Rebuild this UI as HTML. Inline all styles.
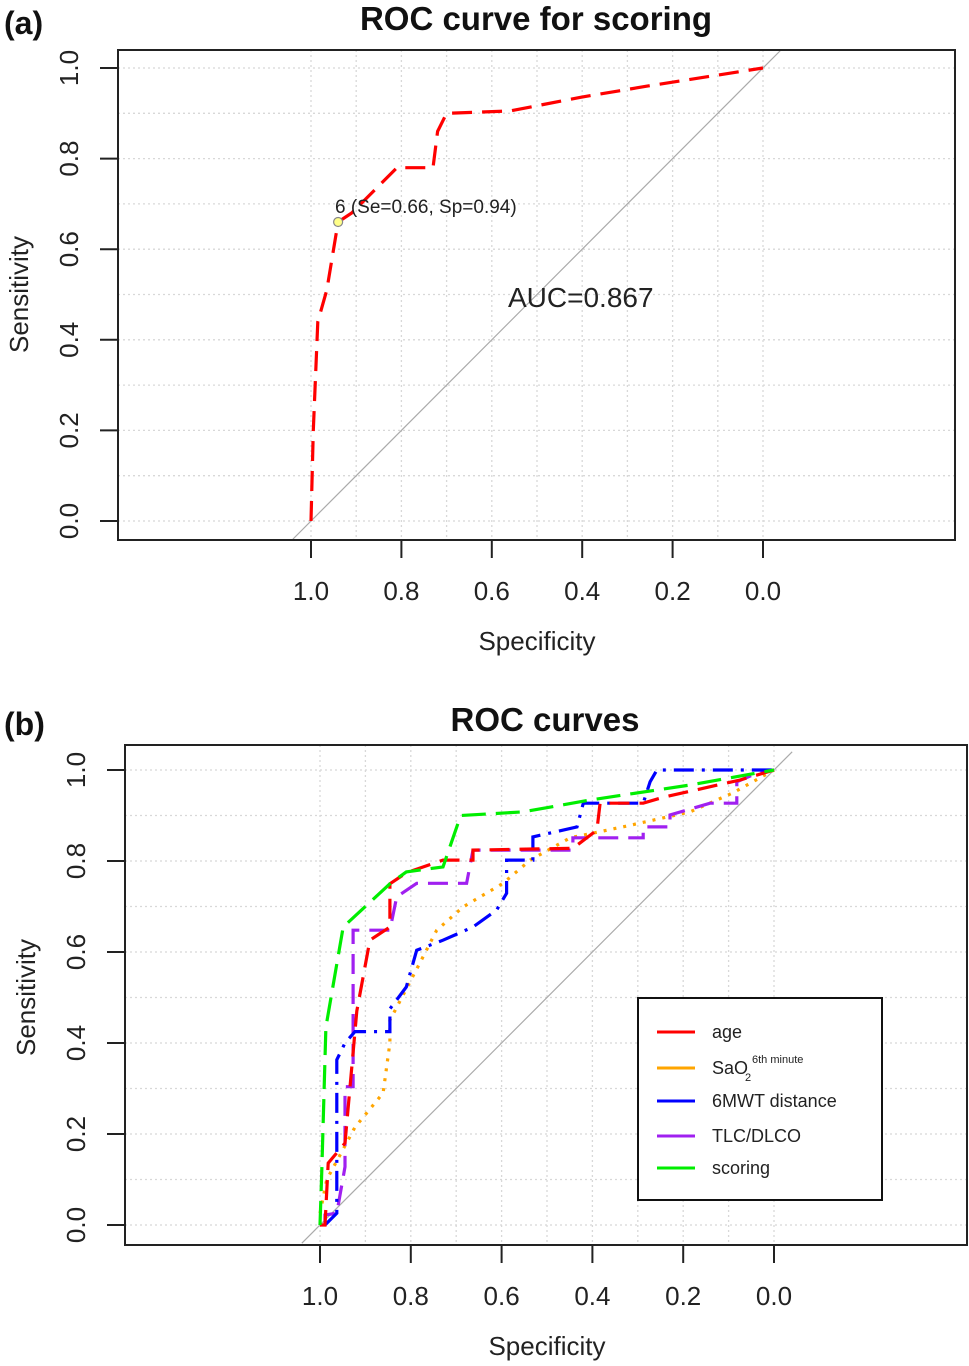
<!DOCTYPE html>
<html><head><meta charset="utf-8"><style>
body{margin:0;background:#fff}
svg{display:block;font-family:"Liberation Sans",sans-serif}
</style></head><body>
<svg id="s" width="969" height="1366" viewBox="0 0 969 1366" xmlns="http://www.w3.org/2000/svg"></svg>
<script>
const ticksX=[1.0,0.8,0.6,0.4,0.2,0.0];
const ticksY=[0.0,0.2,0.4,0.6,0.8,1.0];
const tickLabels=["1.0","0.8","0.6","0.4","0.2","0.0"];
const tickLabelsY=["0.0","0.2","0.4","0.6","0.8","1.0"];
const scoringASpec=[1.0,0.995,0.985,0.965,0.94,0.91,0.81,0.73,0.72,0.70,0.56,0.405,0.256,0.0];
const scoringASens=[0.0,0.2,0.44,0.51,0.66,0.68,0.78,0.78,0.86,0.90,0.905,0.935,0.96,1.0];
const ageSpec=[1.0,0.989,0.982,0.945,0.919,0.89,0.846,0.846,0.81,0.729,0.663,0.663,0.443,0.39,0.383,0.288,0.244,0.075,0.0];
const ageSens=[0.0,0.0,0.136,0.18,0.47,0.626,0.655,0.75,0.774,0.802,0.802,0.824,0.828,0.868,0.927,0.927,0.94,0.978,1.0];
const saoSpec=[1.0,0.985,0.923,0.861,0.846,0.846,0.78,0.743,0.685,0.597,0.537,0.449,0.333,0.185,0.09,0.0];
const saoSens=[0.026,0.1,0.215,0.29,0.4,0.45,0.576,0.648,0.699,0.751,0.802,0.851,0.875,0.908,0.95,1.0];
const mwtSpec=[0.989,0.963,0.963,0.945,0.923,0.846,0.846,0.81,0.787,0.729,0.663,0.611,0.589,0.589,0.531,0.531,0.434,0.42,0.288,0.273,0.258,0.0];
const mwtSens=[0.0,0.026,0.363,0.4,0.425,0.425,0.475,0.523,0.604,0.626,0.655,0.692,0.729,0.802,0.802,0.853,0.875,0.927,0.927,0.974,1.0,1.0];
const tlcSpec=[0.989,0.989,0.963,0.945,0.945,0.927,0.927,0.846,0.831,0.787,0.677,0.663,0.443,0.443,0.288,0.288,0.229,0.229,0.141,0.082,0.082,0.038,0.0];
const tlcSens=[0.0,0.022,0.026,0.128,0.304,0.304,0.648,0.648,0.721,0.751,0.751,0.824,0.824,0.851,0.851,0.875,0.875,0.901,0.927,0.927,0.974,0.993,1.0];
const scoringBSpec=[1.0,0.996,0.987,0.949,0.846,0.81,0.729,0.69,0.553,0.405,0.185,0.0];
const scoringBSens=[0.0,0.12,0.435,0.655,0.75,0.776,0.787,0.90,0.908,0.934,0.967,1.0];
const legendLabels=["age","SaO","6MWT distance","TLC/DLCO","scoring"];

const S=document.getElementById('s');const NS="http://www.w3.org/2000/svg";
function el(t,a,txt){const e=document.createElementNS(NS,t);for(const k in a)e.setAttribute(k,a[k]);if(txt!=null)e.textContent=txt;S.appendChild(e);return e;}

function panel(P){
  const X=v=>P.x0+(1-v)*(P.x1-P.x0);
  const Y=v=>P.y0-v*(P.y0-P.y1);
  for(let i=0;i<=10;i++){
    const g=el('line',{x1:X(i/10),x2:X(i/10),y1:P.by,y2:P.by+P.bh,stroke:'#d8d8d8','stroke-width':1.3,'stroke-dasharray':'2 3'});
    
    const h=el('line',{x1:P.bx,x2:P.bx+P.bw,y1:Y(i/10),y2:Y(i/10),stroke:'#d8d8d8','stroke-width':1.3,'stroke-dasharray':'2 3'});
    
  }
  const d=el('line',{x1:X(1.04),y1:Y(-0.04),x2:X(-0.04),y2:Y(1.04),stroke:'#aaa','stroke-width':1.2});
  
  const b=el('rect',{x:P.bx,y:P.by,width:P.bw,height:P.bh,fill:'none',stroke:'#222','stroke-width':2});
  
  const ax=el('line',{x1:X(1),x2:X(0),y1:P.by+P.bh,y2:P.by+P.bh,stroke:'#222','stroke-width':2});
  
  ticksX.forEach((v,i)=>{
    const t=el('line',{x1:X(v),x2:X(v),y1:P.by+P.bh,y2:P.by+P.bh+18,stroke:'#222','stroke-width':2});
    
    const l=el('text',{x:X(v),y:P.by+P.bh+60,'text-anchor':'middle','font-size':26,fill:'#222'},tickLabels[i]);
    
  });
  ticksY.forEach((v,i)=>{
    const t=el('line',{x1:P.bx-18,x2:P.bx,y1:Y(v),y2:Y(v),stroke:'#222','stroke-width':2});
    
    const lx=P.bx-40;
    const l=el('text',{x:lx,y:Y(v),'text-anchor':'middle','font-size':26,fill:'#222',transform:`rotate(-90 ${lx} ${Y(v)})`},tickLabelsY[i]);
    
  });
  const ya=el('line',{x1:P.bx,x2:P.bx,y1:Y(0),y2:Y(1),stroke:'#222','stroke-width':2});
  
  const xt=el('text',{x:(X(1)+X(0))/2,y:P.by+P.bh+110,'text-anchor':'middle','font-size':26,fill:'#222'},'Specificity');
  
  const yx=P.ytx,yy=(Y(0)+Y(1))/2;
  const yt=el('text',{x:yx,y:yy,'text-anchor':'middle','font-size':26,fill:'#222',transform:`rotate(-90 ${yx} ${yy})`},'Sensitivity');
  
  const ti=el('text',{x:P.titleX,y:P.titleY,'text-anchor':'middle','font-size':33,'font-weight':'bold',fill:'#111'},P.title);
  
  const pl=el('text',{x:4,y:P.titleY+4,'font-size':32,'font-weight':'bold',fill:'#111'},P.tag);
  
  return {X,Y};
}
function curve(A,spec,sens,color,dash,name){
  const pts=spec.map((s,i)=>A.X(s).toFixed(1)+','+A.Y(sens[i]).toFixed(1)).join(' ');
  const p=el('polyline',{points:pts,fill:'none',stroke:color,'stroke-width':3.2,'stroke-dasharray':dash});
  
}

const A=panel({x0:311,x1:763,y0:521,y1:68,bx:118,by:50,bw:837,bh:490,ytx:28,title:'ROC curve for scoring',titleX:536,titleY:30,tag:'(a)'});
curve(A,scoringASpec,scoringASens,'#f00','20 10','scoring-roc-curve');
const pt=el('circle',{cx:A.X(0.94),cy:A.Y(0.66),r:4.5,fill:'#ffff88',stroke:'#888','stroke-width':1.2});

const pl=el('text',{x:335,y:213,'font-size':19,fill:'#222'},'6 (Se=0.66, Sp=0.94)');

const auc=el('text',{x:508,y:307,'font-size':28,fill:'#222'},'AUC=0.867');


const B=panel({x0:320,x1:774,y0:1225,y1:770,bx:125,by:745,bw:842,bh:500,ytx:35,title:'ROC curves',titleX:545,titleY:731,tag:'(b)'});
curve(B,saoSpec,saoSens,'#ffa500','3 7','sao2-roc-curve');
curve(B,tlcSpec,tlcSens,'#a020f0','20 10','tlc-dlco-roc-curve');
curve(B,mwtSpec,mwtSens,'#0000ff','20 8 3 8','6mwt-roc-curve');
curve(B,ageSpec,ageSens,'#ff0000','20 10','age-roc-curve');
curve(B,scoringBSpec,scoringBSens,'#00ee00','24 10','scoring-roc-curve-b');

const lg=el('rect',{x:638,y:998,width:244,height:202,fill:'#fff',stroke:'#111','stroke-width':2});

const lcol=['#ff0000','#ffa500','#0000ff','#a020f0','#00ee00'];
const ly=[1032,1068,1101,1136,1168];
legendLabels.forEach((t,i)=>{
  const l=el('line',{x1:657,x2:695,y1:ly[i],y2:ly[i],stroke:lcol[i],'stroke-width':3});
  
  const tx=el('text',{x:712,y:ly[i]+6,'font-size':18,fill:'#222'},t);
  
});
const sub=el('text',{x:745,y:1081,'font-size':11,fill:'#222'},'2');

const sup=el('text',{x:752,y:1063,'font-size':11,fill:'#222'},'6th minute');

</script>
</body></html>
